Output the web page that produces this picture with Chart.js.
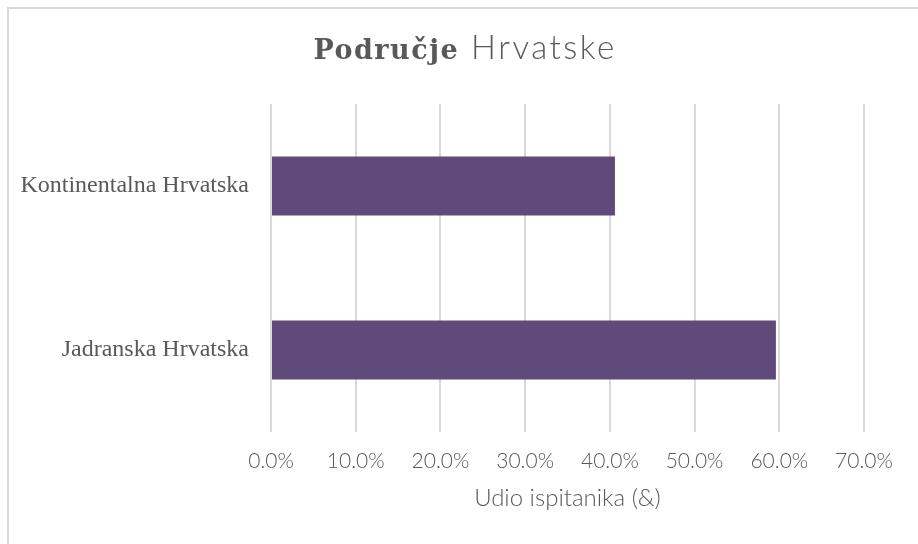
<!DOCTYPE html>
<html lang="hr">
<head>
  <meta charset="UTF-8" />
  <title>Područje Hrvatske</title>
  <script src="https://cdn.jsdelivr.net/npm/chart.js"></script>
  <style>
    html, body {
      margin: 0;
      padding: 0;
      background: #fff;
      overflow: hidden;
    }
    .wrap {
      position: relative;
      width: 918px;
      height: 544px;
    }
    .frame {
      position: absolute;
      left: 7px;
      top: 7px;
      width: 1000px;
      height: 1000px;
      border: 2px solid #d9d9d9;
      box-sizing: border-box;
      pointer-events: none;
    }
    canvas {
      position: absolute;
      left: 0;
      top: 0;
    }
  </style>
</head>
<body>
<div class="wrap">
  <canvas id="chart" width="918" height="544"></canvas>
  <div class="frame"></div>
</div>

<script>
  const categories = ["Kontinentalna Hrvatska", "Jadranska Hrvatska"];
  const shares = [40.6, 59.6];
  const titleBold = "Područje";
  const titleRest = "Hrvatske";
  const axisTitle = "Udio ispitanika (&)";

  // title with mixed fonts, drawn at the top of the canvas
  const splitTitle = {
    id: "splitTitle",
    afterDraw(chart) {
      const ctx = chart.ctx;
      ctx.save();
      ctx.textBaseline = "alphabetic";
      ctx.textAlign = "left";
      ctx.fillStyle = "#595959";
      const boldFont = "bold 27px 'DejaVu Serif', 'Liberation Serif', serif";
      const lightFont = "300 33px Lato, 'Open Sans', sans-serif";
      ctx.font = boldFont;
      ctx.letterSpacing = "1.5px";
      const w1 = ctx.measureText(titleBold).width;
      ctx.font = lightFont;
      ctx.letterSpacing = "2.5px";
      const w2 = ctx.measureText(titleRest).width;
      const gap = 12;
      const x0 = 465 - (w1 + gap + w2) / 2;
      const y = 59;
      ctx.font = boldFont;
      ctx.letterSpacing = "1.5px";
      ctx.fillText(titleBold, x0, y);
      ctx.font = lightFont;
      ctx.letterSpacing = "2.5px";
      ctx.fillText(titleRest, x0 + w1 + gap, y);
      ctx.restore();
    }
  };

  new Chart(document.getElementById("chart"), {
    type: "bar",
    data: {
      labels: categories,
      datasets: [{
        data: shares,
        backgroundColor: "#5f4a7b",
        barPercentage: 0.36,
        categoryPercentage: 1
      }]
    },
    options: {
      indexAxis: "y",
      responsive: false,
      animation: false,
      layout: { padding: { left: 10, top: 104, right: 54, bottom: 31 } },
      plugins: {
        legend: { display: false },
        title: { display: false },
        tooltip: { enabled: false }
      },
      scales: {
        x: {
          min: 0,
          max: 70,
          ticks: {
            stepSize: 10,
            padding: 17,
            color: "#595959",
            font: { family: "Lato, 'Open Sans', sans-serif", size: 21, weight: 300 },
            callback: v => v.toFixed(1) + "%"
          },
          grid: { color: "#d9d9d9", lineWidth: 2, drawTicks: false },
          border: { display: false },
          title: {
            display: true,
            text: axisTitle,
            color: "#595959",
            font: { family: "Lato, 'Open Sans', sans-serif", size: 24, weight: 300 },
            padding: { top: 4, bottom: 0 }
          },
          afterFit(scale) { scale.height = 81; }
        },
        y: {
          ticks: {
            padding: 22,
            color: "#595959",
            font: { family: "'Liberation Serif', 'DejaVu Serif', serif", size: 24 }
          },
          grid: { display: false, drawTicks: false },
          border: { display: false },
          afterFit(scale) { scale.width = 261; }
        }
      }
    },
    plugins: [splitTitle]
  });
</script>
</body>
</html>
